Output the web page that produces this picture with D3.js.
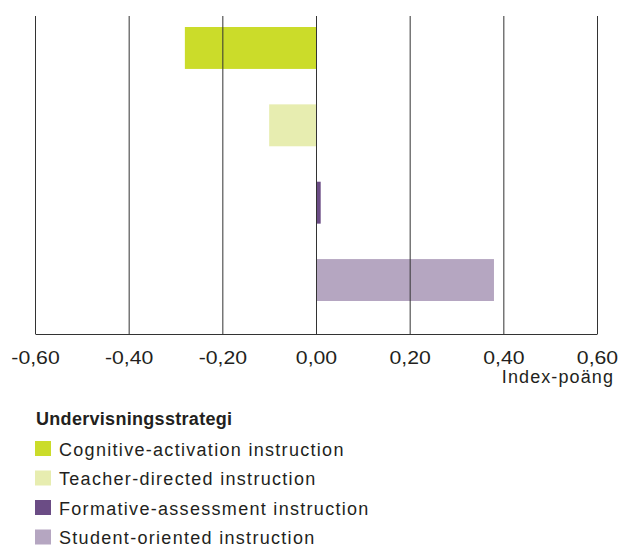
<!DOCTYPE html>
<html>
<head>
<meta charset="utf-8">
<script src="https://cdn.jsdelivr.net/npm/d3@7"></script>
<style>
  body { margin: 0; background: #fff; }
  text { font-family: "Liberation Sans", Arial, sans-serif; fill: #231f20; }
</style>
</head>
<body>
<div id="chart"></div>
<script>
// data
var categories = ["Cognitive-activation instruction", "Teacher-directed instruction",
                  "Formative-assessment instruction", "Student-oriented instruction"];
var values = [-0.28, -0.10, 0.01, 0.38];
var colors = ["#cbdc2a", "#e7edb0", "#6b4c85", "#b5a6c1"];
var tickValues = [-0.6, -0.4, -0.2, 0, 0.2, 0.4, 0.6];
var legendTitle = "Undervisningsstrategi";
var axisTitle = "Index-poäng";

var width = 625, height = 545;
var plot = {left: 35, right: 597, top: 16, bottom: 334};

var svg = d3.select("#chart")
  .append("svg")
  .attr("width", width)
  .attr("height", height);

var x = d3.scaleLinear()
  .domain([-0.6, 0.6])
  .range([plot.left, plot.right]);

var y = d3.scaleBand()
  .domain(categories)
  .range([27, 301])
  .paddingInner(0.458)
  .paddingOuter(0);

var locale = d3.formatLocale({decimal: ",", thousands: " ", grouping: [3], currency: ["", ""], minus: "-"});
var fmt = locale.format(".2f");

// bars
svg.append("g")
  .selectAll("rect")
  .data(values)
  .enter()
  .append("rect")
    .attr("x", function(d) { return x(Math.min(0, d)); })
    .attr("y", function(d, i) { return y(categories[i]); })
    .attr("width", function(d) { return Math.abs(x(d) - x(0)); })
    .attr("height", y.bandwidth())
    .attr("fill", function(d, i) { return colors[i]; });

// x axis with gridlines
var xAxis = svg.append("g")
  .attr("transform", "translate(0," + plot.bottom + ")")
  .call(d3.axisBottom(x)
    .tickValues(tickValues)
    .tickFormat(fmt)
    .tickSizeInner(-(plot.bottom - plot.top))
    .tickSizeOuter(0)
    .tickPadding(17));

xAxis.select(".domain").attr("stroke", "#333").attr("stroke-width", 1);
xAxis.selectAll(".tick line").attr("stroke", "#333").attr("stroke-width", 1);
// the original face has wider digits, so stretch them a bit
xAxis.selectAll(".tick text")
  .attr("font-size", 18)
  .attr("transform", "scale(1.18,1)")
  .attr("font-family", "Liberation Sans, Arial, sans-serif")
  .attr("fill", "#231f20");

svg.append("text")
  .attr("x", 614)
  .attr("y", 383)
  .attr("text-anchor", "end")
  .attr("font-size", 18)
  .attr("letter-spacing", "1.1px")
  .text(axisTitle);

// legend
var legend = svg.append("g");

legend.append("text")
  .attr("x", 36)
  .attr("y", 425)
  .attr("font-size", 18)
  .attr("font-weight", "bold")
  .attr("letter-spacing", "0.3px")
  .text(legendTitle);

var items = legend.selectAll(".item")
  .data(categories)
  .enter()
  .append("g")
    .attr("class", "item")
    .attr("transform", function(d, i) { return "translate(35," + (441 + i * 29.5) + ")"; });

items.append("rect")
  .attr("width", 16)
  .attr("height", 15)
  .attr("fill", function(d, i) { return colors[i]; });

items.append("text")
  .attr("x", 24)
  .attr("y", 14.5)
  .attr("font-size", 18)
  .attr("letter-spacing", "1.3px")
  .text(function(d) { return d; });
</script>
</body>
</html>
